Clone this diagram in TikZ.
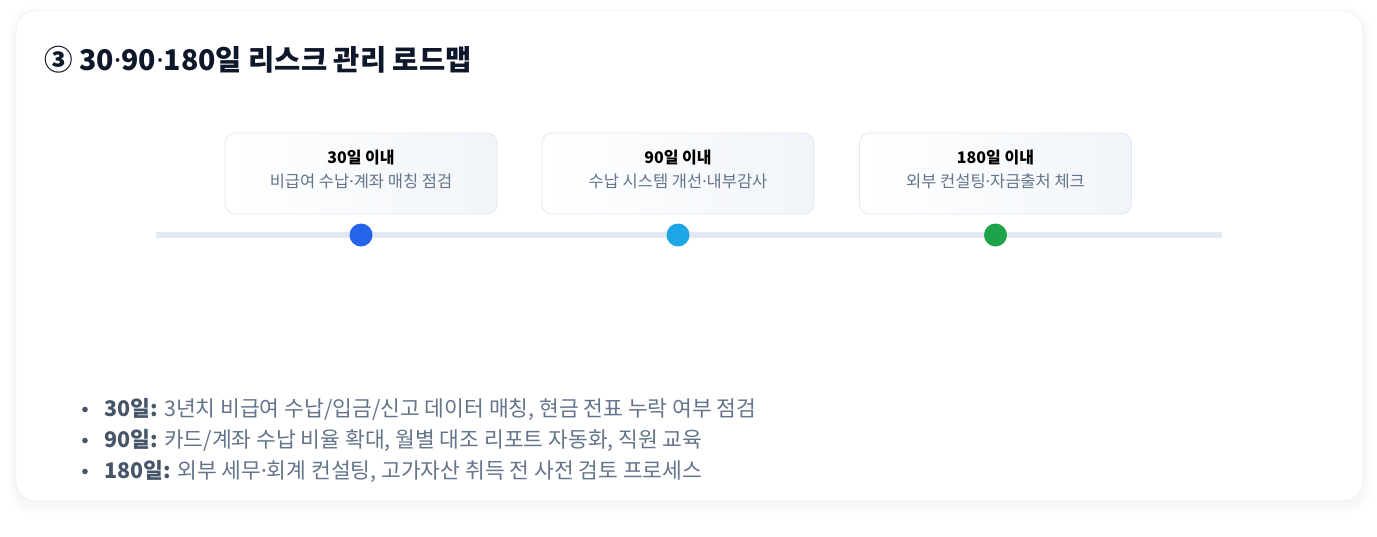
\documentclass[tikz,border=0pt]{standalone}
\usepackage{fontspec}
\setmainfont{Noto Sans CJK KR}
\newfontfamily\latinfont{Noto Sans}
\newcommand\middot{{\latinfont\char"00B7}}
\usetikzlibrary{positioning}

\definecolor{cardline}{HTML}{E2E8F0}
\definecolor{titleink}{HTML}{0F172A}
\definecolor{slatetext}{HTML}{64748B}
\definecolor{slatebold}{HTML}{475569}
\definecolor{boxend}{HTML}{F1F5F9}
\definecolor{dotblue}{HTML}{2563EB}
\definecolor{dotsky}{HTML}{1EA5E6}
\definecolor{dotgreen}{HTML}{1FA34A}

\begin{document}
\begin{tikzpicture}[x=1pt, y=-1pt,
    stepbox/.style={draw=cardline, line width=0.8pt, rounded corners=10pt,
      left color=white, right color=boxend, minimum width=272pt, minimum height=81pt, inner sep=0pt},
    steptitle/.style={font=\fontsize{16}{19}\selectfont\bfseries, text=black, inner sep=0pt},
    stepnote/.style={font=\fontsize{16.5}{19}\selectfont, text=slatetext, inner sep=0pt},
    milestone/.style={circle, fill=#1, minimum size=23pt, inner sep=0pt},
    bulletline/.style={anchor=west, font=\fontsize{21.5}{24}\selectfont, text=slatetext, inner sep=0pt}]
  \useasboundingbox[fill=white] (0,0) rectangle (1377,536);
  % card with a soft shadow
  \foreach \s in {8,6,4,2}
    \fill[black, opacity=0.008, rounded corners=22pt] (16-\s,11-\s+4) rectangle (1363+\s,501+\s+4);
  \draw[cardline, fill=white, rounded corners=20pt] (16,11) rectangle (1363,501);
  \node[anchor=west, inner sep=0pt, text=titleink, font=\fontsize{28.5}{32}\selectfont\bfseries] (title) at (44,60) {③ 30\middot{}90\middot{}180일 리스크 관리 로드맵};

  % timeline
  \coordinate (lineL) at (156,235);
  \coordinate (lineR) at (1222,235);
  \draw[cardline, line width=6pt] (lineL) -- (lineR);
  \foreach \x/\c/\d/\t in {361/dotblue/30/{비급여 수납\middot{}계좌 매칭 점검},
                           678/dotsky/90/{수납 시스템 개선\middot{}내부감사},
                           995.5/dotgreen/180/{외부 컨설팅\middot{}자금출처 체크}} {
    \node[stepbox] (box\d) at (\x,173.5) {};
    \node[steptitle] (head\d) at (\x,157.5) {\d{}일 이내};
    \node[stepnote] (note\d) at (\x,181) {\t};
    \node[milestone=\c] (dot\d) at (\x,235) {};
  }

  % notes below
  \foreach \y/\d/\t in {409.5/30/{3년치 비급여 수납/입금/신고 데이터 매칭, 현금 전표 누락 여부 점검},
                        440.5/90/{카드/계좌 수납 비율 확대, 월별 대조 리포트 자동화, 직원 교육},
                        471.5/180/{외부 세무\middot{}회계 컨설팅, 고가자산 취득 전 사전 검토 프로세스}} {
    \fill[slatebold] (85,\y) circle (2.8pt);
    \node[bulletline] (item\d) at (104,\y) {\textcolor{slatebold}{\bfseries\d{}일:} \t};
  }
\end{tikzpicture}
\end{document}
